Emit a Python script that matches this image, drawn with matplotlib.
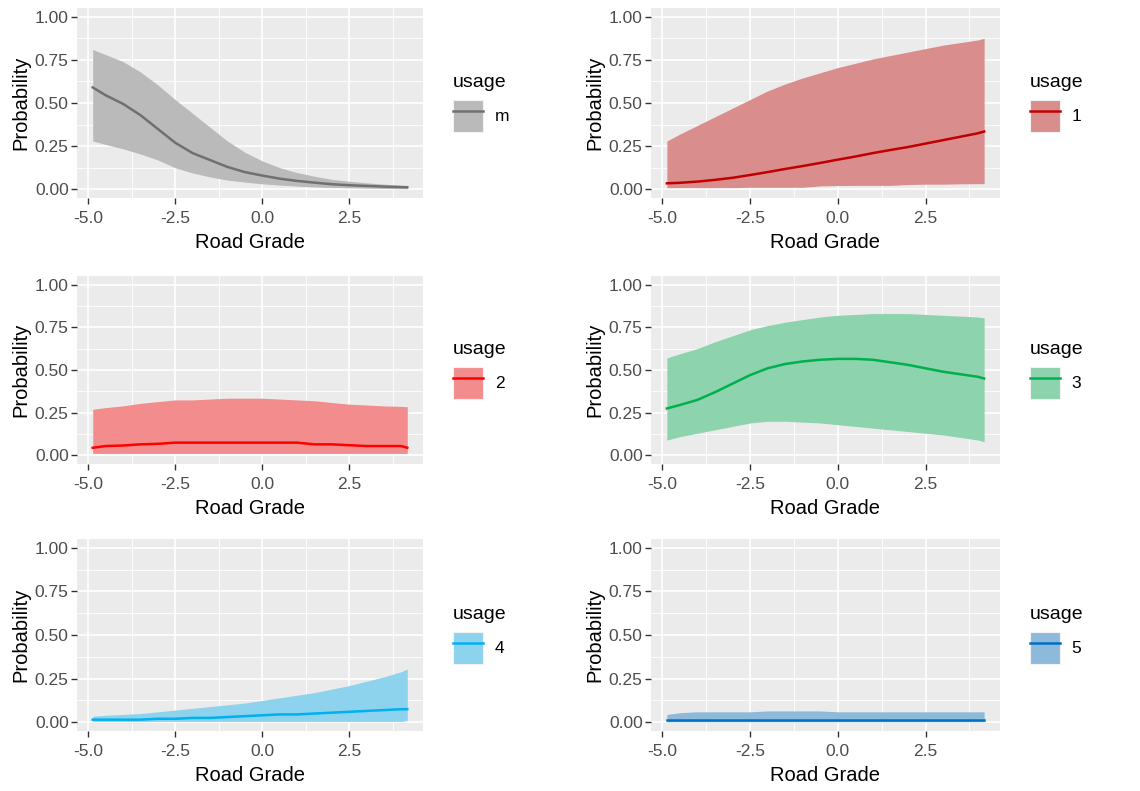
import matplotlib.pyplot as plt
from matplotlib.lines import Line2D
from matplotlib.patches import Patch
from matplotlib.colors import to_rgb

plt.rcParams['font.family'] = ['Liberation Sans', 'DejaVu Sans']

# Road grade values where the predicted probabilities were read
grade = [-4.87, -4.5, -4.0, -3.5, -3.0, -2.5, -2.0, -1.5, -1.0, -0.5,
         0.0, 0.5, 1.0, 1.5, 2.0, 2.5, 3.0, 3.5, 4.0, 4.17]

# usage m
fit_m = [0.59, 0.545, 0.495, 0.43, 0.35, 0.27, 0.21, 0.17, 0.13, 0.10,
         0.08, 0.062, 0.049, 0.039, 0.03, 0.024, 0.02, 0.016, 0.013, 0.012]
lo_m = [0.28, 0.26, 0.235, 0.205, 0.17, 0.125, 0.095, 0.072, 0.054, 0.042,
        0.032, 0.025, 0.019, 0.014, 0.011, 0.009, 0.007, 0.005, 0.004, 0.004]
hi_m = [0.81, 0.78, 0.74, 0.68, 0.605, 0.52, 0.44, 0.36, 0.28, 0.215,
        0.165, 0.126, 0.097, 0.076, 0.058, 0.047, 0.038, 0.03, 0.024, 0.023]

# usage 1
fit_1 = [0.035, 0.038, 0.045, 0.055, 0.067, 0.083, 0.10, 0.118, 0.135, 0.153,
         0.172, 0.19, 0.21, 0.228, 0.245, 0.265, 0.285, 0.305, 0.325, 0.335]
lo_1 = [0.01, 0.01, 0.01, 0.01, 0.01, 0.012, 0.012, 0.012, 0.012, 0.02,
        0.022, 0.023, 0.023, 0.023, 0.028, 0.03, 0.03, 0.032, 0.033, 0.033]
hi_1 = [0.28, 0.32, 0.37, 0.42, 0.47, 0.52, 0.57, 0.61, 0.645, 0.675,
        0.705, 0.73, 0.755, 0.775, 0.795, 0.815, 0.835, 0.85, 0.865, 0.875]

# usage 2
fit_2 = [0.045, 0.055, 0.058, 0.065, 0.068, 0.075, 0.075, 0.075, 0.075, 0.075,
         0.075, 0.075, 0.075, 0.065, 0.065, 0.06, 0.055, 0.055, 0.055, 0.045]
lo_2 = [0.012] * 20
hi_2 = [0.27, 0.28, 0.29, 0.305, 0.315, 0.325, 0.325, 0.33, 0.335, 0.335,
        0.335, 0.33, 0.325, 0.32, 0.31, 0.30, 0.295, 0.29, 0.287, 0.285]

# usage 3
fit_3 = [0.275, 0.295, 0.325, 0.37, 0.42, 0.47, 0.51, 0.535, 0.55, 0.56,
         0.565, 0.565, 0.56, 0.545, 0.53, 0.51, 0.49, 0.475, 0.46, 0.45]
lo_3 = [0.09, 0.11, 0.13, 0.15, 0.17, 0.19, 0.20, 0.20, 0.195, 0.19,
        0.18, 0.17, 0.16, 0.15, 0.14, 0.13, 0.12, 0.105, 0.09, 0.08]
hi_3 = [0.57, 0.595, 0.625, 0.665, 0.70, 0.735, 0.76, 0.78, 0.795, 0.81,
        0.82, 0.825, 0.83, 0.83, 0.83, 0.825, 0.82, 0.815, 0.81, 0.805]

# usage 4
fit_4 = [0.015, 0.015, 0.015, 0.015, 0.02, 0.02, 0.025, 0.025, 0.03, 0.035,
         0.04, 0.045, 0.045, 0.05, 0.055, 0.06, 0.065, 0.07, 0.075, 0.075]
lo_4 = [0.005] * 19 + [0.01]
hi_4 = [0.035, 0.04, 0.045, 0.05, 0.06, 0.07, 0.08, 0.09, 0.10, 0.11,
        0.125, 0.14, 0.155, 0.17, 0.19, 0.21, 0.235, 0.26, 0.29, 0.305]

# usage 5
fit_5 = [0.015] * 20
lo_5 = [0.003] * 20
hi_5 = [0.045, 0.055, 0.06, 0.06, 0.06, 0.06, 0.065, 0.065, 0.065, 0.065,
        0.06, 0.06, 0.06, 0.06, 0.06, 0.06, 0.06, 0.06, 0.06, 0.06]

usage_labels = ['m', '1', '2', '3', '4', '5']
line_colors = ['#707070', '#C00000', '#FF0000', '#00B050', '#00B0F0', '#0070C0']
series = [(fit_m, lo_m, hi_m), (fit_1, lo_1, hi_1), (fit_2, lo_2, hi_2),
          (fit_3, lo_3, hi_3), (fit_4, lo_4, hi_4), (fit_5, lo_5, hi_5)]

BG = '#EBEBEB'


def blend(color, alpha=0.4, bg=BG):
    c = to_rgb(color)
    b = to_rgb(bg)
    return tuple(alpha * ci + (1 - alpha) * bi for ci, bi in zip(c, b))


W, H = 1140, 791
fig = plt.figure(figsize=(W / 100, H / 100), dpi=100)

# panel boxes in pixels: (left, right) and (top, bottom)
col_x = [(77, 423), (651, 1000)]
row_y = [(8, 198), (276, 464), (539, 731)]

for i, label in enumerate(usage_labels):
    r, c = divmod(i, 2)
    x0, x1 = col_x[c]
    y0, y1 = row_y[r]
    ax = fig.add_axes([x0 / W, 1 - y1 / H, (x1 - x0) / W, (y1 - y0) / H])
    fit, lo, hi = series[i]
    rib = blend(line_colors[i])
    ax.fill_between(grade, lo, hi, color=rib, lw=0, zorder=2)
    ax.plot(grade, fit, color=line_colors[i], lw=1.8, zorder=3)

    ax.set_facecolor(BG)
    ax.margins(x=0.05)
    ax.set_ylim(-0.05, 1.05)
    ax.set_xticks([-5.0, -2.5, 0.0, 2.5])
    ax.set_xticklabels(['-5.0', '-2.5', '0.0', '2.5'])
    ax.set_yticks([0, 0.25, 0.5, 0.75, 1.0])
    ax.set_yticklabels(['0.00', '0.25', '0.50', '0.75', '1.00'])
    ax.set_xticks([-3.75, -1.25, 1.25, 3.75], minor=True)
    ax.set_yticks([0.125, 0.375, 0.625, 0.875], minor=True)
    ax.grid(which='major', color='white', lw=1.2)
    ax.grid(which='minor', color='white', lw=0.6)
    ax.set_axisbelow(True)
    for s in ax.spines.values():
        s.set_visible(False)
    ax.tick_params(which='major', length=4, width=1, color='#333333',
                   labelsize=12.5, labelcolor='#4D4D4D')
    ax.tick_params(axis='x', which='major', pad=5.5)
    ax.tick_params(axis='y', which='major', pad=2)
    ax.tick_params(which='minor', length=0)
    ax.set_xlabel('Road Grade', fontsize=14.5, labelpad=5)
    ax.set_ylabel('Probability', fontsize=14.5, labelpad=3)

    handle = (Patch(facecolor=rib, edgecolor='#F2F2F2', lw=0.8),
              Line2D([], [], color=line_colors[i], lw=1.8))
    ax.legend([handle], [label], title='usage', loc='center left',
              bbox_to_anchor=(30 / (x1 - x0) + 1.0, 0.5), frameon=False,
              fontsize=12.5, title_fontsize=14, handlelength=1.7,
              handleheight=2.4, handletextpad=0.7, borderpad=0,
              borderaxespad=0, alignment='left')

fig.savefig('out.png', dpi=100, facecolor='white')
